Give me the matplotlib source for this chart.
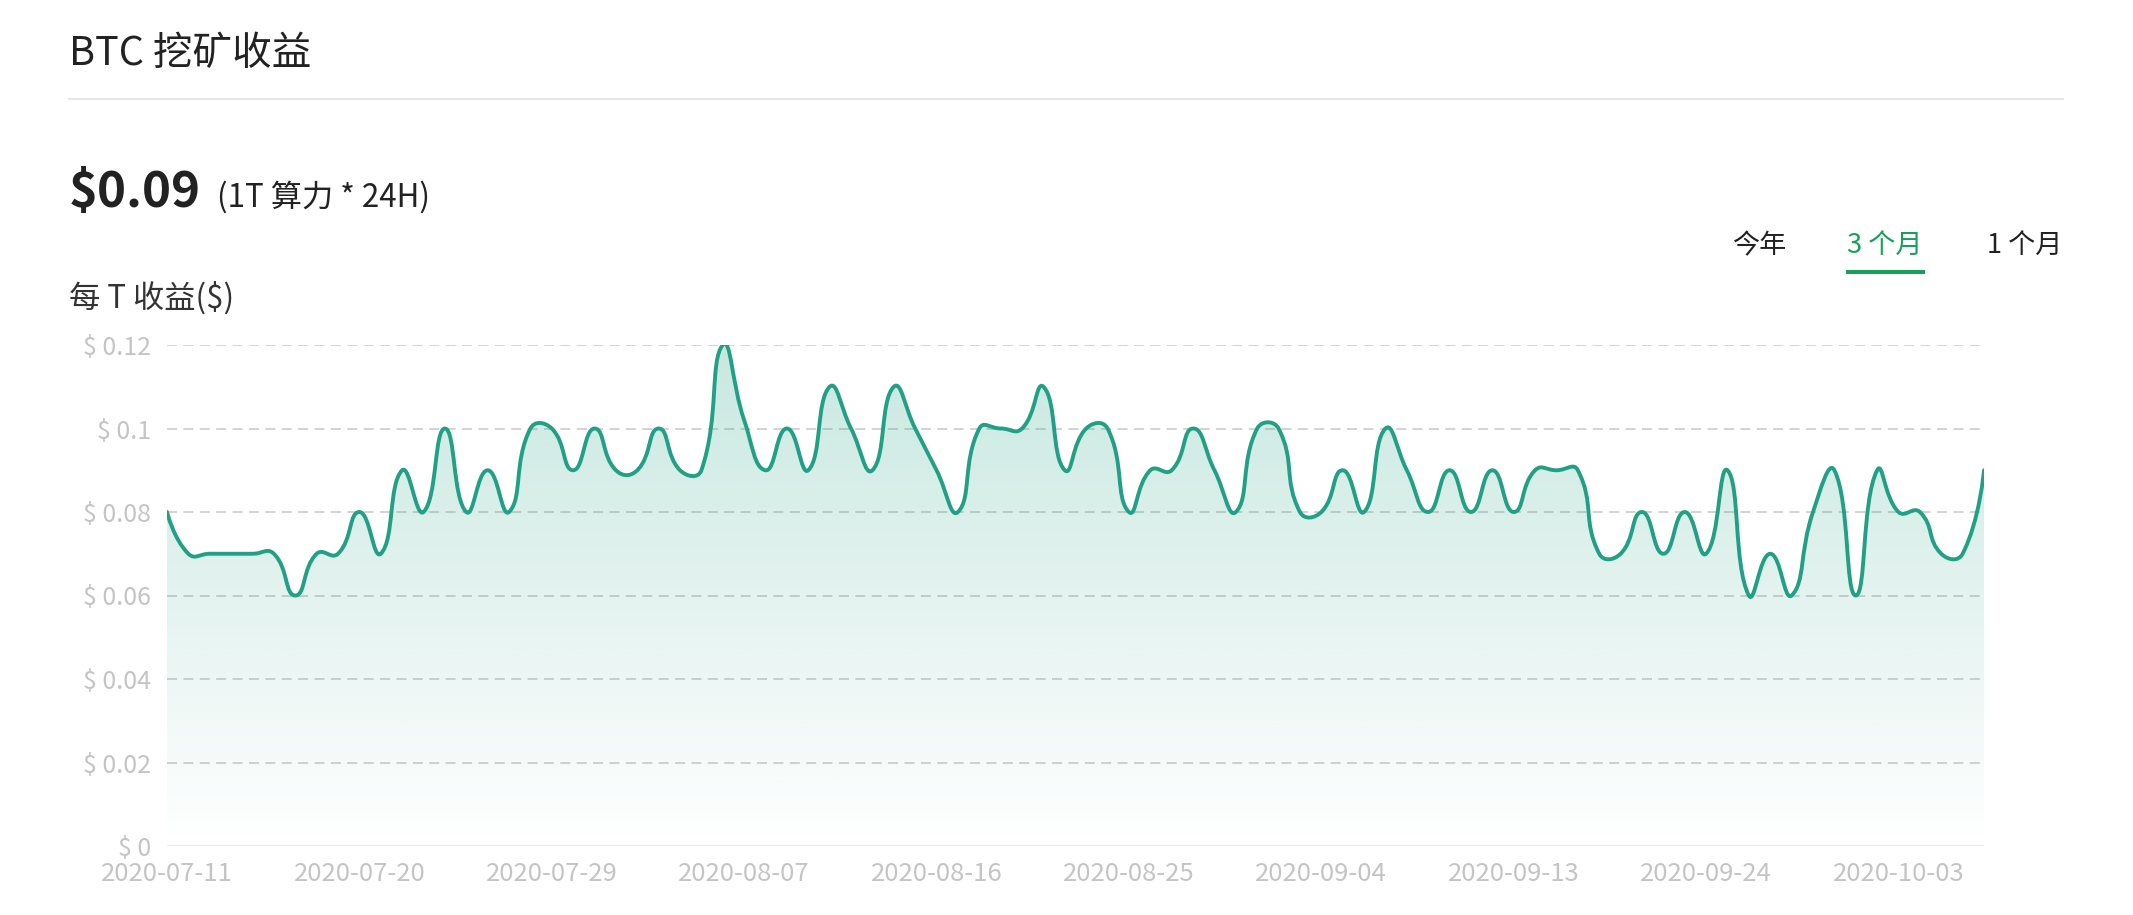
import numpy as np
import matplotlib
matplotlib.use("Agg")
import matplotlib.pyplot as plt
from matplotlib.path import Path
from matplotlib.patches import PathPatch, Rectangle

plt.rcParams['font.family'] = ['Noto Sans CJK SC', 'DejaVu Sans']
plt.rcParams['lines.scale_dashes'] = False

# ---------------- data ----------------
dates = [
    "2020-07-11", "2020-07-12", "2020-07-13", "2020-07-14", "2020-07-15", "2020-07-16",
    "2020-07-17", "2020-07-18", "2020-07-19", "2020-07-20", "2020-07-21", "2020-07-22",
    "2020-07-23", "2020-07-24", "2020-07-25", "2020-07-26", "2020-07-27", "2020-07-28",
    "2020-07-29", "2020-07-30", "2020-07-31", "2020-08-01", "2020-08-02", "2020-08-03",
    "2020-08-04", "2020-08-05", "2020-08-06", "2020-08-07", "2020-08-08", "2020-08-09",
    "2020-08-10", "2020-08-11", "2020-08-12", "2020-08-13", "2020-08-14", "2020-08-15",
    "2020-08-16", "2020-08-17", "2020-08-18", "2020-08-19", "2020-08-20", "2020-08-21",
    "2020-08-22", "2020-08-23", "2020-08-24", "2020-08-25", "2020-08-26", "2020-08-27",
    "2020-08-28", "2020-08-29", "2020-08-31", "2020-09-01", "2020-09-02", "2020-09-03",
    "2020-09-04", "2020-09-05", "2020-09-06", "2020-09-07", "2020-09-08", "2020-09-09",
    "2020-09-10", "2020-09-11", "2020-09-12", "2020-09-13", "2020-09-14", "2020-09-15",
    "2020-09-16", "2020-09-17", "2020-09-19", "2020-09-20", "2020-09-21", "2020-09-23",
    "2020-09-24", "2020-09-25", "2020-09-26", "2020-09-27", "2020-09-28", "2020-09-29",
    "2020-09-30", "2020-10-01", "2020-10-02", "2020-10-03", "2020-10-04", "2020-10-05",
    "2020-10-06", "2020-10-07",
]
revenue = [
    0.08, 0.07, 0.07, 0.07, 0.07, 0.07, 0.06, 0.07, 0.07, 0.08,
    0.07, 0.09, 0.08, 0.10, 0.08, 0.09, 0.08, 0.10, 0.10, 0.09,
    0.10, 0.09, 0.09, 0.10, 0.09, 0.09, 0.12, 0.102, 0.09, 0.10,
    0.09, 0.11, 0.10, 0.09, 0.11, 0.10, 0.09, 0.08, 0.10, 0.10,
    0.10, 0.11, 0.09, 0.10, 0.10, 0.08, 0.09, 0.09, 0.10, 0.09,
    0.08, 0.10, 0.10, 0.08, 0.08, 0.09, 0.08, 0.10, 0.09, 0.08,
    0.09, 0.08, 0.09, 0.08, 0.09, 0.09, 0.09, 0.07, 0.07, 0.08,
    0.07, 0.08, 0.07, 0.09, 0.06, 0.07, 0.06, 0.08, 0.09, 0.06,
    0.09, 0.08, 0.08, 0.07, 0.07, 0.09,
]
y_ticks = [0, 0.02, 0.04, 0.06, 0.08, 0.10, 0.12]
y_tick_labels = ["$ 0", "$ 0.02", "$ 0.04", "$ 0.06", "$ 0.08", "$ 0.1", "$ 0.12"]
tick_step = 9

title = "BTC 挖矿收益"
price = "$0.09"
price_note = "(1T 算力 * 24H)"
y_title = "每 T 收益($)"
tabs = ["今年", "3 个月", "1 个月"]

# ---------------- style ----------------
W, H = 2133, 915
LINE = "#22a085"
GREEN_TAB = "#16a05c"
TXT = "#222222"
AX_TXT = "#c4c4c4"

fig = plt.figure(figsize=(W / 100, H / 100), dpi=100)
fig.patch.set_facecolor("white")


def fx(px):
    return px / W


def fy(py):
    return 1 - py / H


ax = fig.add_axes([fx(167), fy(846), (1984 - 167) / W, (846 - 345) / H])
n = len(revenue)
xs = np.arange(n)
ax.set_xlim(0, n - 1)
ax.set_ylim(0, 0.12)
for s in ax.spines.values():
    s.set_visible(False)
ax.set_facecolor("none")

# grid lines
for v in y_ticks:
    if v == 0:
        ax.axhline(v, color="#ececec", lw=1.6, zorder=1)
    else:
        ax.axhline(v, color="#cccccc", lw=1.2, linestyle=(0, (7.2, 4.6)), zorder=1)

ax.set_yticks(y_ticks)
ax.set_yticklabels(y_tick_labels)
ax.set_xticks(xs[::tick_step])
ax.set_xticklabels(dates[::tick_step])
ax.tick_params(axis="y", length=0, pad=11.5, labelsize=18, labelcolor=AX_TXT)
ax.tick_params(axis="x", length=0, pad=11, labelsize=18.5, labelcolor=AX_TXT)

# ---------- echarts-like smooth bezier (computed in pixel space) ----------
fig.canvas.draw()
pts = ax.transData.transform(np.column_stack([xs, revenue]))
smooth = 0.5
verts = [pts[0]]
codes = [Path.MOVETO]
cp0 = pts[0].copy()
for i in range(1, n):
    p = pts[i]
    prev = pts[i - 1]
    if i < n - 1:
        nxt = pts[i + 1]
        v = nxt - prev
        lp = np.hypot(*(p - prev))
        ln = np.hypot(*(nxt - p))
        ratio = ln / (ln + lp)
        cp1 = p - v * smooth * (1 - ratio)
        next_cp0 = p + v * smooth * ratio
    else:
        cp1 = p.copy()
        next_cp0 = p.copy()
    verts += [cp0, cp1, p]
    codes += [Path.CURVE4] * 3
    cp0 = next_cp0

inv = ax.transData.inverted()
curve_data = inv.transform(np.array(verts))
line_path = Path(curve_data, codes)

area_verts = np.vstack([curve_data, [[n - 1, 0], [0, 0], [0, 0]]])
area_codes = codes + [Path.LINETO, Path.LINETO, Path.CLOSEPOLY]
area_path = Path(area_verts, area_codes)

# gradient fill
grad = np.linspace(0, 1, 256).reshape(-1, 1)
rgb = np.array(matplotlib.colors.to_rgb(LINE))
img = np.zeros((256, 1, 4))
img[..., :3] = rgb
img[..., 3] = 0.25 * grad  # row 0 bottom (origin lower)
im = ax.imshow(img, extent=[0, n - 1, 0, 0.12], origin="lower", aspect="auto",
               interpolation="bilinear", zorder=2)
clip = PathPatch(area_path, facecolor="none", edgecolor="none", transform=ax.transData)
ax.add_patch(clip)
im.set_clip_path(clip)

ax.add_patch(PathPatch(line_path, facecolor="none", edgecolor=LINE, lw=2.8,
                       zorder=3, capstyle="round", joinstyle="round"))
ax.set_xlim(0, n - 1)
ax.set_ylim(0, 0.12)

# ---------------- header texts ----------------
fig.text(fx(69), fy(54), title, fontsize=28.5, color=TXT, va="center", ha="left")
fig.add_artist(Rectangle((fx(68), fy(100)), (2064 - 68) / W, 2 / H,
                         transform=fig.transFigure, color="#e6e6e6", lw=0))
fig.text(fx(69), fy(207), price, fontsize=35.5, fontweight="bold", color=TXT,
         va="baseline", ha="left")
fig.text(fx(217), fy(207), price_note, fontsize=22.5, color=TXT, va="baseline", ha="left")
fig.text(fx(69), fy(298), y_title, fontsize=22.5, color="#333333", va="center", ha="left")

tab_x = [1732, 1847, 1987]
for t, x in zip(tabs, tab_x):
    c = GREEN_TAB if t == "3 个月" else TXT
    fig.text(fx(x), fy(246), t, fontsize=19.5, color=c, va="center", ha="left")
fig.add_artist(Rectangle((fx(1846), fy(274)), (1925 - 1846) / W, 4 / H,
                         transform=fig.transFigure, color=GREEN_TAB, lw=0))

fig.savefig("out.png", dpi=100, facecolor="white")
